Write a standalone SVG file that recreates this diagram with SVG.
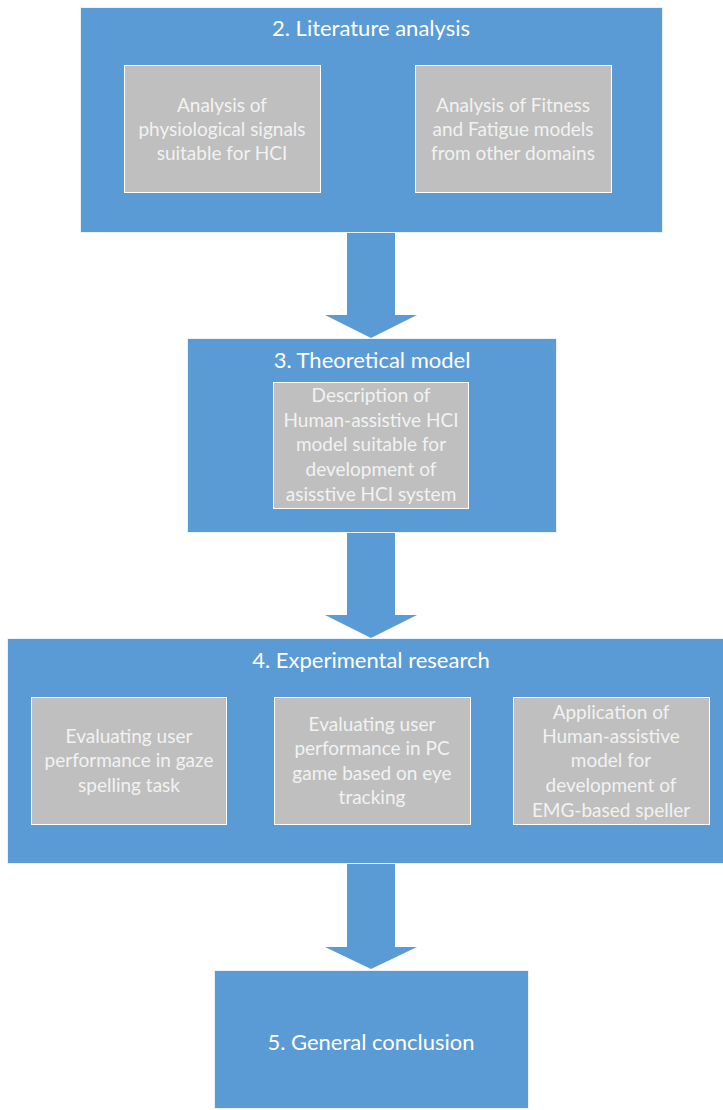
<svg xmlns="http://www.w3.org/2000/svg" width="723" height="1110" viewBox="0 0 723 1110">
  <style>
    .stage { fill: #5B9BD5; stroke: #EAF1FA; stroke-width: 1; }
    .task { fill: #BFBFBF; stroke: #FFFFFF; stroke-width: 1; }
    .arrow { fill: #5B9BD5; }
    .title { font-family: Lato, "Open Sans", sans-serif; font-size: 22px; fill: #FFFFFF; text-anchor: middle; }
    .label { font-family: Lato, "Open Sans", sans-serif; font-size: 19px; fill: #F2F2F2; text-anchor: middle; }
  </style>
  <rect width="723" height="1110" fill="#FFFFFF"/>

  <!-- block arrows between stages -->
  <g id="connectors">
    <polygon class="arrow" points="347,233 395,233 395,315 417,315 371,338 325,315 347,315"/>
    <polygon class="arrow" points="347,533 395,533 395,615 417,615 371,638 325,615 347,615"/>
    <polygon class="arrow" points="347,864 395,864 395,947 417,947 371,969 325,947 347,947"/>
  </g>

  <g id="literature-analysis">
    <rect class="stage" x="80.5" y="7.5" width="582" height="225"/>
    <text class="title" x="371" y="36">2. Literature analysis</text>
    <g id="physiological-signals">
      <rect class="task" x="124.5" y="65.5" width="196" height="127"/>
      <text class="label" x="222" y="112">Analysis of</text>
      <text class="label" x="222" y="136">physiological signals</text>
      <text class="label" x="222" y="160">suitable for HCI</text>
    </g>
    <g id="fitness-fatigue">
      <rect class="task" x="415.5" y="65.5" width="196" height="127"/>
      <text class="label" x="513" y="112">Analysis of Fitness</text>
      <text class="label" x="513" y="136">and Fatigue models</text>
      <text class="label" x="513" y="160">from other domains</text>
    </g>
  </g>

  <g id="theoretical-model">
    <rect class="stage" x="187.5" y="338.5" width="369" height="194"/>
    <text class="title" x="372" y="368">3. Theoretical model</text>
    <g id="model-description">
      <rect class="task" x="273.5" y="382.5" width="195" height="126"/>
      <text class="label" x="371" y="402">Description of</text>
      <text class="label" x="371" y="427">Human-assistive HCI</text>
      <text class="label" x="371" y="451">model suitable for</text>
      <text class="label" x="371" y="476">development of</text>
      <text class="label" x="371" y="501">asisstive HCI system</text>
    </g>
  </g>

  <g id="experimental-research">
    <rect class="stage" x="7.5" y="638.5" width="730" height="225"/>
    <text class="title" x="371" y="668">4. Experimental research</text>
    <g id="gaze-spelling">
      <rect class="task" x="31.5" y="697.5" width="195" height="127"/>
      <text class="label" x="129" y="743">Evaluating user</text>
      <text class="label" x="129" y="767">performance in gaze</text>
      <text class="label" x="129" y="792">spelling task</text>
    </g>
    <g id="pc-game">
      <rect class="task" x="274.5" y="697.5" width="196" height="127"/>
      <text class="label" x="372" y="731">Evaluating user</text>
      <text class="label" x="372" y="755">performance in PC</text>
      <text class="label" x="372" y="780">game based on eye</text>
      <text class="label" x="372" y="804">tracking</text>
    </g>
    <g id="emg-speller">
      <rect class="task" x="513.5" y="697.5" width="196" height="127"/>
      <text class="label" x="611" y="719">Application of</text>
      <text class="label" x="611" y="743">Human-assistive</text>
      <text class="label" x="611" y="767">model for</text>
      <text class="label" x="611" y="792">development of</text>
      <text class="label" x="611" y="817">EMG-based speller</text>
    </g>
  </g>

  <g id="general-conclusion">
    <rect class="stage" x="214.5" y="970.5" width="314" height="138"/>
    <text class="title" x="371" y="1050">5. General conclusion</text>
  </g>
</svg>
